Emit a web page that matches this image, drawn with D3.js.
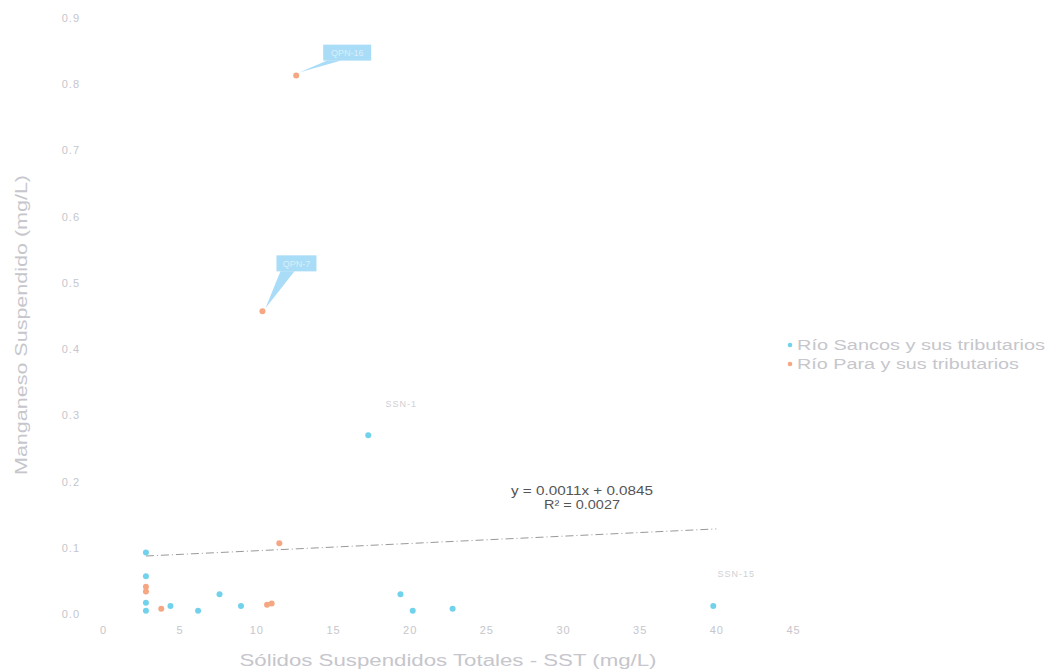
<!DOCTYPE html>
<html><head><meta charset="utf-8">
<script src="https://cdn.jsdelivr.net/npm/d3@7"></script>
<style>body{margin:0;background:#fff;font-family:"Liberation Sans",Arial,sans-serif}</style>
</head><body><svg id="c" width="1049" height="670"></svg>
<script>
const sancosX = [2.8, 2.8, 2.8, 2.8, 4.4, 6.2, 7.6, 9.0, 17.3, 19.4, 20.2, 22.8, 39.8];
const sancosY = [0.093, 0.057, 0.017, 0.005, 0.012, 0.005, 0.030, 0.012, 0.270, 0.030, 0.005, 0.008, 0.012];
const paraX = [2.8, 2.8, 3.8, 10.7, 11.0, 11.5, 10.4, 12.6];
const paraY = [0.041, 0.034, 0.008, 0.014, 0.016, 0.107, 0.457, 0.813];
const xTicks = [0, 5, 10, 15, 20, 25, 30, 35, 40, 45];
const yTicks = [0, 0.1, 0.2, 0.3, 0.4, 0.5, 0.6, 0.7, 0.8, 0.9];
const seriesNames = ["Río Sancos y sus tributarios", "Río Para y sus tributarios"];
const seriesColors = ["#72d2ec", "#f5a783"];
const trend = {slope: 0.0011, intercept: 0.0845, x0: 2.8, x1: 40};
const eqLines = ["y = 0.0011x + 0.0845", "R² = 0.0027"];
const callouts = [ {x: 12.6, y: 0.813, text: "QPN-16"}, {x: 10.4, y: 0.457, text: "QPN-7"} ];
const plainLabels = [ {x: 17.3, y: 0.270, text: "SSN-1"}, {x: 39.8, y: 0.012, text: "SSN-15"} ];

const svg = d3.select("#c");
const x = d3.scaleLinear().domain([0, 45]).range([103, 793]);
const y = d3.scaleLinear().domain([0, 0.9]).range([614, 18]);
const grey = "#c6c6cc";

const xa = svg.append("g").attr("transform", "translate(0,614)")
  .call(d3.axisBottom(x).tickValues(xTicks).tickFormat(d3.format("d")).tickSize(0).tickPadding(12));
xa.select(".domain").remove();
xa.selectAll("text").attr("fill", grey).attr("font-size", 11).attr("letter-spacing", 1).attr("font-family", "Liberation Sans, Arial");

const ya = svg.append("g").attr("transform", "translate(80,0)")
  .call(d3.axisLeft(y).tickValues(yTicks).tickFormat(d3.format(".1f")).tickSize(0).tickPadding(0));
ya.select(".domain").remove();
ya.selectAll("text").attr("fill", grey).attr("font-size", 11).attr("letter-spacing", 1).attr("font-family", "Liberation Sans, Arial");

svg.append("text").attr("x", 448).attr("y", 666).attr("text-anchor", "middle")
  .attr("fill", grey).attr("font-size", 16).attr("textLength", 417).attr("lengthAdjust", "spacingAndGlyphs")
  .text("Sólidos Suspendidos Totales  - SST (mg/L)");
svg.append("text").attr("transform", "translate(27,325) rotate(-90)").attr("text-anchor", "middle")
  .attr("fill", grey).attr("font-size", 16).attr("textLength", 300).attr("lengthAdjust", "spacingAndGlyphs")
  .text("Manganeso Suspendido (mg/L)");

// trendline
svg.append("line").attr("x1", x(trend.x0)).attr("y1", y(trend.slope*trend.x0+trend.intercept))
  .attr("x2", x(trend.x1)).attr("y2", y(trend.slope*trend.x1+trend.intercept))
  .attr("stroke", "#999").attr("stroke-width", 1).attr("stroke-dasharray", "8,3,1,3");
svg.append("g").selectAll("text").data(eqLines).join("text")
  .attr("x", 582).attr("y", (d,i) => 495 + i*14).attr("text-anchor", "middle")
  .attr("fill", "#555").attr("font-size", 12)
  .attr("textLength", (d,i) => i ? 76 : 142).attr("lengthAdjust", "spacingAndGlyphs").text(d => d);

// callouts
callouts.forEach(c => {
  const px = x(c.x), py = y(c.y);
  const w = c.text.length * 8, h = 16;
  const bx = c.y > 0.6 ? px + 27 : px + 14, by = c.y > 0.6 ? py - 31 : py - 56;
  const g = svg.append("g");
  g.append("path").attr("d", `M${bx+4},${by+h} L${px+3},${py-3} L${bx+18},${by+h} Z`).attr("fill", "#a9dcf6");
  g.append("rect").attr("x", bx).attr("y", by).attr("width", w).attr("height", h).attr("fill", "#a9dcf6");
  g.append("text").attr("x", bx + w/2).attr("y", by + 11.5).attr("text-anchor", "middle")
    .attr("fill", "#d9eefa").attr("font-size", 9).text(c.text);
});
plainLabels.forEach(l => {
  svg.append("text").attr("x", x(l.x) + (l.y > 0.1 ? 33 : 23)).attr("y", y(l.y) - (l.y > 0.1 ? 28 : 29))
    .attr("text-anchor", "middle").attr("fill", "#d0d0d4").attr("font-size", 9).attr("letter-spacing", 1).text(l.text);
});

// points
svg.append("g").selectAll("circle").data(sancosX.map((v,i)=>[v, sancosY[i]])).join("circle")
  .attr("cx", d => x(d[0])).attr("cy", d => y(d[1])).attr("r", 3).attr("fill", seriesColors[0]);
svg.append("g").selectAll("circle").data(paraX.map((v,i)=>[v, paraY[i]])).join("circle")
  .attr("cx", d => x(d[0])).attr("cy", d => y(d[1])).attr("r", 3).attr("fill", seriesColors[1]);

// legend
const lg = svg.append("g").attr("transform", "translate(788,345)");
const legendLens = [248, 222];
seriesNames.forEach((n,i) => {
  lg.append("circle").attr("cx", 2).attr("cy", i*19).attr("r", 2.3).attr("fill", seriesColors[i]);
  lg.append("text").attr("x", 9).attr("y", i*19 + 5).attr("fill", grey).attr("font-size", 14)
    .attr("textLength", legendLens[i]).attr("lengthAdjust", "spacingAndGlyphs").text(n);
});
</script></body></html>
